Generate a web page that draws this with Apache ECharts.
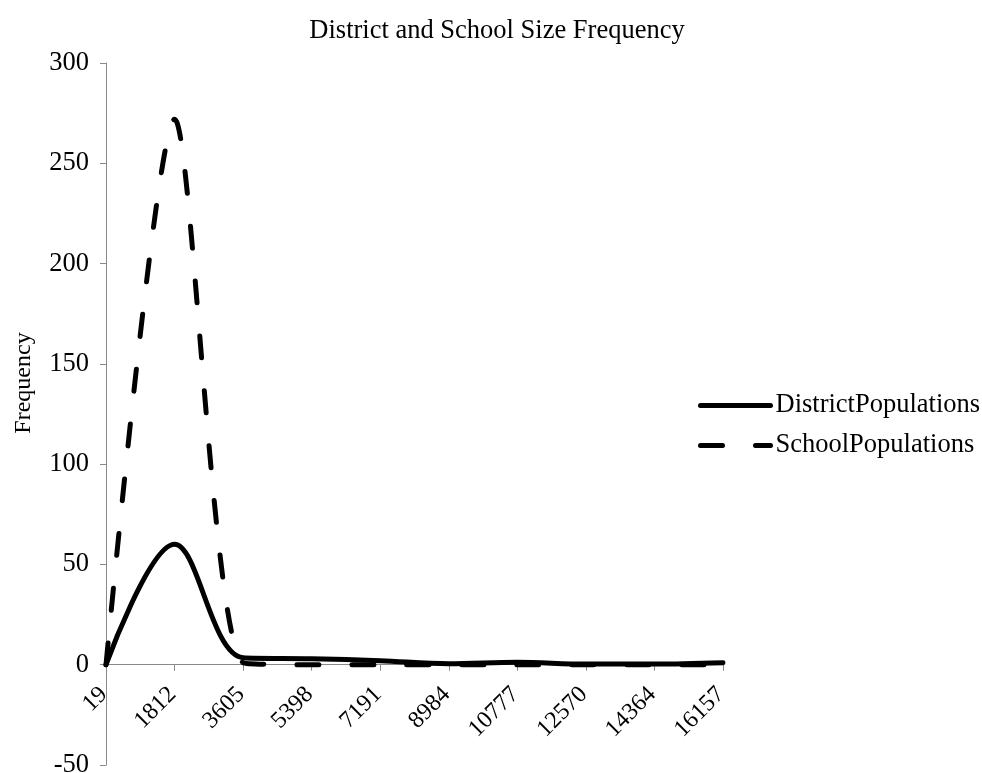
<!DOCTYPE html>
<html>
<head>
<meta charset="utf-8">
<script src="https://cdn.jsdelivr.net/npm/echarts@6/dist/echarts.min.js"></script>
<style>
  html, body { margin: 0; padding: 0; background: #ffffff; }
  #chart { width: 982px; height: 773px; }
</style>
</head>
<body>
<div id="chart"></div>
<script>
// Population size bins (lower bound of each bin)
const sizeBins = ['19', '1812', '3605', '5398', '7191', '8984', '10777', '12570', '14364', '16157'];

// Frequency of districts and schools falling in each bin
const districtFreq = [0, 60, 3.5, 3, 2, 0.5, 1.2, 0.3, 0.3, 1];
const schoolFreq = [0, 272, 1, 0, 0, 0, 0, 0, 0, 0];

// Value axis ticks
const yMin = -50;
const yMax = 300;
const yStep = 50;

const serif = '"Liberation Serif", "Times New Roman", serif';
const axisGray = '#898989';
const fontPx = 26.5;

const chart = echarts.init(document.getElementById('chart'));

chart.setOption({
  animation: false,
  backgroundColor: '#ffffff',
  title: {
    text: 'District and School Size Frequency',
    left: 492,
    textAlign: 'center',
    top: 13,
    textStyle: { fontFamily: serif, fontSize: fontPx, fontWeight: 'normal', color: '#000000' }
  },
  legend: {
    orient: 'vertical',
    left: 698,
    top: 392,
    padding: 0,
    itemWidth: 70,
    itemHeight: 14,
    itemGap: 13,
    itemStyle: { color: 'rgba(0,0,0,0)', borderWidth: 0 },
    lineStyle: { width: 5, cap: 'round' },
    textStyle: { fontFamily: serif, fontSize: fontPx, color: '#000000' },
    data: ['DistrictPopulations', 'SchoolPopulations']
  },
  grid: { left: 106, right: 259, top: 63, bottom: 8, containLabel: false, outerBoundsMode: 'none' },
  xAxis: {
    type: 'category',
    data: sizeBins,
    boundaryGap: false,
    axisLine: { show: true, onZero: false, lineStyle: { color: axisGray, width: 1 } },
    axisTick: { show: true, alignWithLabel: true, length: 6, lineStyle: { color: axisGray } },
    axisLabel: {
      interval: 0,
      rotate: 45,
      margin: 24,
      padding: [0, 3, 0, 0],
      fontFamily: serif,
      fontSize: 24,
      color: '#000000'
    },
    splitLine: { show: false }
  },
  yAxis: {
    type: 'value',
    min: yMin,
    max: yMax,
    interval: yStep,
    name: 'Frequency',
    nameLocation: 'middle',
    nameGap: 70,
    nameRotate: 90,
    nameTextStyle: { fontFamily: serif, fontSize: 24, color: '#000000', padding: [0, 0, 0, 62] },
    axisLine: { show: true, lineStyle: { color: axisGray, width: 1 } },
    axisTick: { show: true, length: 6, lineStyle: { color: axisGray } },
    axisLabel: { fontFamily: serif, fontSize: fontPx, color: '#000000', margin: 17 },
    splitLine: { show: false }
  },
  series: [
    {
      name: 'DistrictPopulations',
      type: 'line',
      data: districtFreq,
      smooth: 0.35,
      symbol: 'none',
      lineStyle: { color: '#000000', width: 5, cap: 'round', join: 'round' },
      itemStyle: { color: '#000000' },
      z: 3
    },
    {
      name: 'SchoolPopulations',
      type: 'line',
      data: schoolFreq,
      smooth: 0.25,
      symbol: 'none',
      lineStyle: { color: '#000000', width: 5, type: [22, 33], cap: 'round', join: 'round' },
      itemStyle: { color: '#000000' },
      z: 2
    }
  ]
});

// Put the category axis (line, ticks and labels) on the value 0 baseline.
const zeroY = chart.convertToPixel({ yAxisIndex: 0 }, 0);
const bottomY = chart.convertToPixel({ yAxisIndex: 0 }, yMin);
chart.setOption({ xAxis: { offset: zeroY - bottomY } });
</script>
</body>
</html>
